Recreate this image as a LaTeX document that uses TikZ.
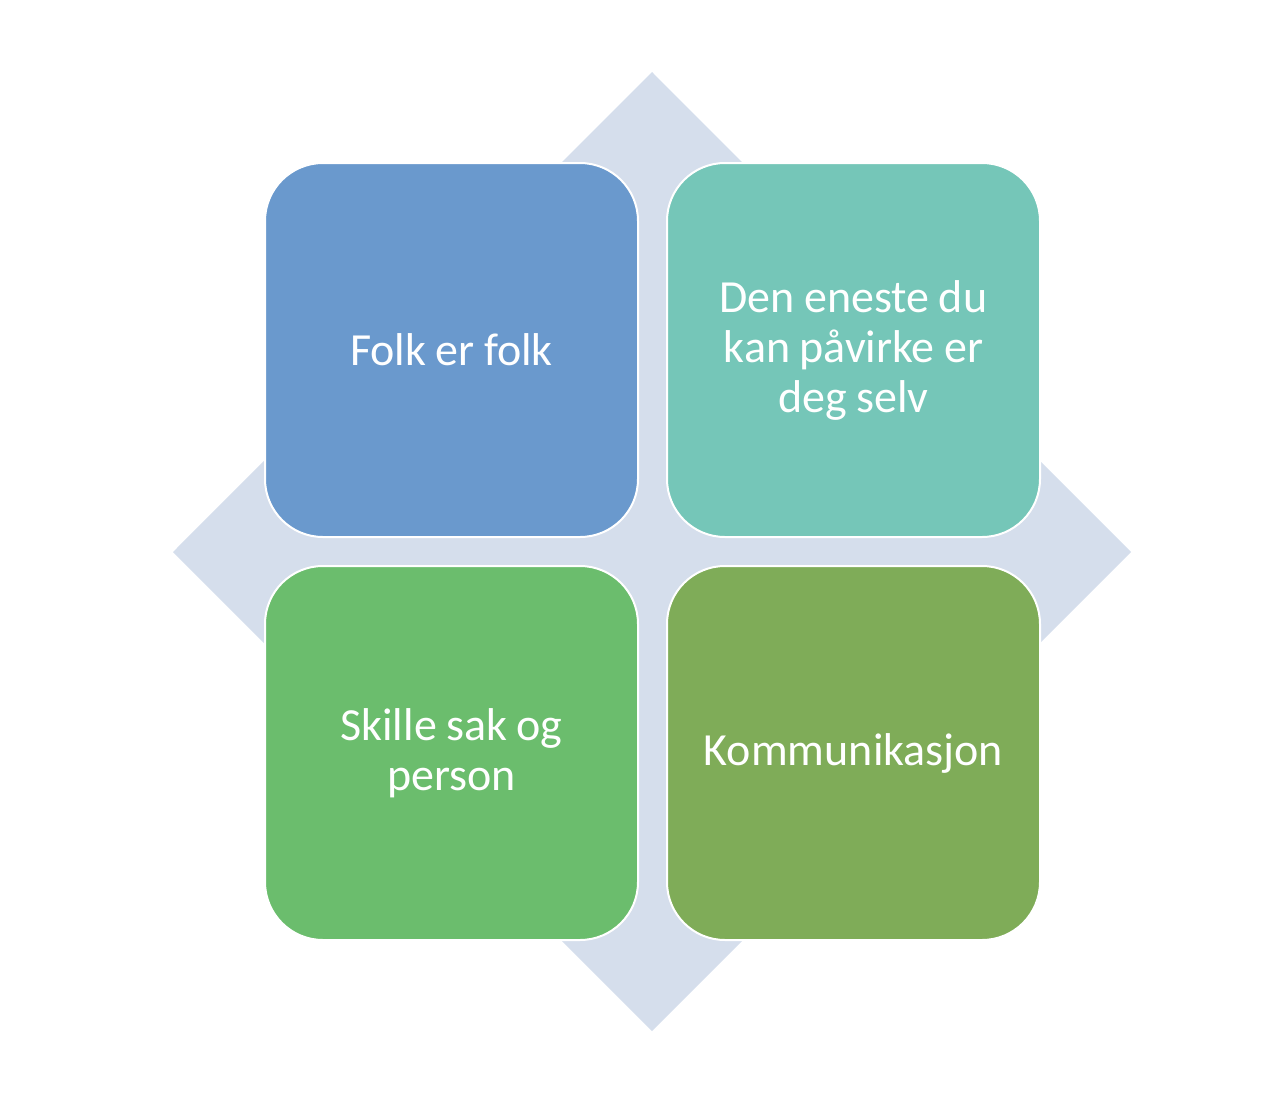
\documentclass[tikz,border=0pt]{standalone}
\usepackage{fontspec}
\setmainfont{Carlito}[WordSpace={0.9,0,0}]
\definecolor{diam}{HTML}{D5DEEC}
\definecolor{cblue}{HTML}{6A99CD}
\definecolor{cteal}{HTML}{75C6B8}
\definecolor{cgreen}{HTML}{6BBD6D}
\definecolor{colive}{HTML}{7FAC58}
\begin{document}
\begin{tikzpicture}[x=1pt,y=-1pt,
  card/.style={draw=white,line width=2pt,rounded corners=58pt,minimum width=373pt,minimum height=374pt,
    fill=#1},
  lbl/.style={text=white,align=center,font=\fontsize{46}{50}\selectfont,inner sep=0pt}]
\useasboundingbox (0,0) rectangle (1278,1114);
\fill[diam] (652,72) -- (1131,552) -- (652,1031) -- (173,552) -- cycle;
\node[card=cblue] (a) at (451.5,350) {};
\node[card=cteal] (b) at (853.5,350) {};
\node[card=cgreen] (c) at (451.5,753) {};
\node[card=colive] (d) at (853.5,753) {};
\node[lbl] (ta) at (a.center) {Folk er folk};
\node[lbl] (tb) at (b.center) {Den eneste du\\kan påvirke er\\deg selv};
\node[lbl] (tc) at (c.center) {Skille sak og\\person};
\node[lbl] (td) at (d.center) {Kommunikasjon};
\end{tikzpicture}
\end{document}
